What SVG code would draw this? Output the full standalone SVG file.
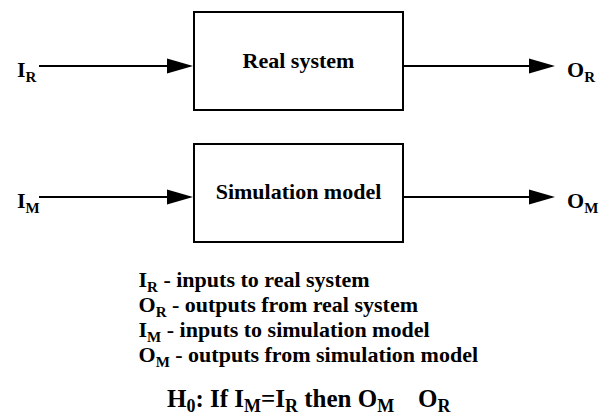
<svg xmlns="http://www.w3.org/2000/svg" width="603" height="416" viewBox="0 0 603 416">
  <style>
    .box { fill: #ffffff; stroke: #000000; stroke-width: 2; }
    .conn { stroke: #000000; stroke-width: 2; fill: none; marker-end: url(#arrow); }
    .t { font-family: 'Liberation Serif', 'Times New Roman', serif; font-weight: bold; fill: #000000; }
    .lbl { font-size: 22px; }
    .mid { text-anchor: middle; }
    .sub { font-size: 15px; }
    .h0 { font-size: 25px; }
    .h0sub { font-size: 18px; }
  </style>
  <defs>
    <marker id="arrow" markerUnits="userSpaceOnUse" markerWidth="26" markerHeight="15" refX="23" refY="7.5" orient="auto" overflow="visible">
      <path d="M0,0 L26,7.5 L0,15 Z" fill="#000000"/>
    </marker>
  </defs>
  <rect width="603" height="416" fill="#ffffff"/>

  <g id="connectors">
    <line class="conn" x1="39" y1="66" x2="190" y2="66"/>
    <line class="conn" x1="403" y1="66" x2="552" y2="66"/>
    <line class="conn" x1="39" y1="197" x2="190" y2="197"/>
    <line class="conn" x1="403" y1="197" x2="552" y2="197"/>
  </g>

  <g id="real-system">
    <rect class="box" x="194" y="12" width="209" height="98"/>
    <text class="t lbl mid" x="298.5" y="67.5">Real system</text>
  </g>

  <g id="simulation-model">
    <rect class="box" x="194" y="144" width="209" height="98"/>
    <text class="t lbl mid" x="298.5" y="199">Simulation model</text>
  </g>

  <g id="input-real">
    <text class="t lbl" x="17" y="77">I<tspan class="sub" dy="5">R</tspan></text>
  </g>
  <g id="output-real">
    <text class="t lbl" x="567" y="77">O<tspan class="sub" dy="5">R</tspan></text>
  </g>
  <g id="input-model">
    <text class="t lbl" x="17" y="208">I<tspan class="sub" dy="5">M</tspan></text>
  </g>
  <g id="output-model">
    <text class="t lbl" x="567" y="208">O<tspan class="sub" dy="5">M</tspan></text>
  </g>

  <g id="legend">
    <text class="t lbl" x="138.5" y="287">I<tspan class="sub" dy="4.5">R</tspan><tspan dy="-4.5"> - inputs to real system</tspan></text>
    <text class="t lbl" x="138.5" y="312">O<tspan class="sub" dy="4.5">R</tspan><tspan dy="-4.5"> - outputs from real system</tspan></text>
    <text class="t lbl" x="138.5" y="337">I<tspan class="sub" dy="4.5">M</tspan><tspan dy="-4.5"> - inputs to simulation model</tspan></text>
    <text class="t lbl" x="138.5" y="362">O<tspan class="sub" dy="4.5">M</tspan><tspan dy="-4.5"> - outputs from simulation model</tspan></text>
  </g>

  <g id="hypothesis">
    <text class="t h0" x="167" y="407">H<tspan class="h0sub" dy="5">0</tspan><tspan dy="-5">: If I</tspan><tspan class="h0sub" dy="5">M</tspan><tspan dy="-5">=I</tspan><tspan class="h0sub" dy="5">R</tspan><tspan dy="-5"> then O</tspan><tspan class="h0sub" dy="5">M</tspan><tspan x="418" dy="-5">O</tspan><tspan class="h0sub" dy="5">R</tspan></text>
  </g>
</svg>
